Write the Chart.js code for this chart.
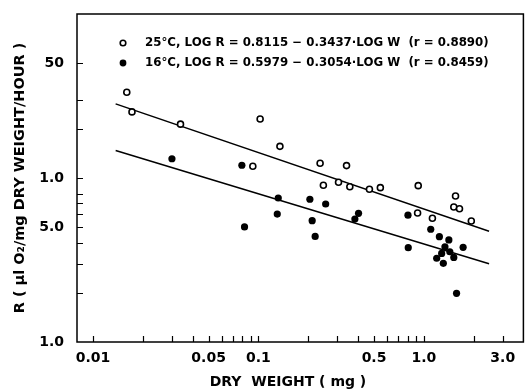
<!DOCTYPE html>
<html>
<head>
<meta charset="utf-8">
<script src="https://cdn.jsdelivr.net/npm/chart.js@4.4.0/dist/chart.umd.min.js"></script>
<style>
  html, body { margin: 0; padding: 0; background: #fff; }
</style>
</head>
<body>
<canvas id="chart" width="529" height="392"></canvas>
<script>
// 25°C (open circles) - dry weight (mg) and R
const openW = [0.0160, 0.0172, 0.0338, 0.1024, 0.1349, 0.0925, 0.236, 0.341, 0.247, 0.305,
               0.357, 0.469, 0.546, 0.925, 0.917, 1.127, 1.555, 1.518, 1.643, 1.937];
const openR = [33.3, 25.3, 21.3, 22.9, 15.6, 11.8, 12.3, 11.9, 9.03, 9.42,
               8.85, 8.53, 8.73, 8.98, 6.12, 5.68, 7.77, 6.66, 6.50, 5.47];

// 16°C (filled circles)
const filledW = [0.030, 0.0794, 0.1318, 0.130, 0.0824, 0.2047, 0.2113, 0.2203, 0.255, 0.403,
                 0.383, 0.802, 0.805, 1.101, 1.242, 1.417, 1.728, 1.342, 1.282, 1.196,
                 1.312, 1.518, 1.436, 1.577];
const filledR = [13.1, 11.96, 7.55, 6.03, 5.03, 7.42, 5.49, 4.40, 6.94, 6.09,
                 5.62, 5.93, 3.76, 4.87, 4.39, 4.19, 3.78, 3.81, 3.47, 3.24,
                 3.02, 3.28, 3.55, 1.98];

// fitted lines, end points
const lineW = [0.0137, 2.48];
const upperLineR = [28.3, 4.74];
const lowerLineR = [14.7, 3.0];

// axis labels as printed
const xTickValues = [0.01, 0.05, 0.1, 0.5, 1.0, 3.0];
const xTickLabels = ['0.01', '0.05', '0.1', '0.5', '1.0', '3.0'];
const yTickValues = [1, 5, 10, 50];
const yTickLabels = ['1.0', '5.0', '1.0', '50'];

// small tick marks along the axes
const xTickMarks = [0.01, 0.02, 0.03, 0.04, 0.05, 0.06, 0.07, 0.08, 0.09,
                    0.1, 0.2, 0.3, 0.4, 0.5, 0.6, 0.7, 0.8, 0.9, 1, 2, 3];
const yTickMarks = [2, 3, 4, 5, 6, 7, 8, 10, 20, 30, 50];

const legendLabels = [
  '25°C, LOG R = 0.8115 − 0.3437·LOG W  (r = 0.8890)',
  '16°C, LOG R = 0.5979 − 0.3054·LOG W  (r = 0.8459)'
];

const FONT = "'DejaVu Sans', sans-serif";

const toPoints = (xs, ys) => xs.map((x, i) => ({ x: x, y: ys[i] }));

// frame, inward tick marks, legend and x title
const decorations = {
  id: 'decorations',
  afterDraw(chart) {
    const ctx = chart.ctx;
    const a = chart.chartArea;
    const x = chart.scales.x;
    const y = chart.scales.y;

    ctx.save();
    ctx.strokeStyle = '#000';
    ctx.lineWidth = 1.5;
    ctx.strokeRect(a.left, a.top, a.right - a.left, a.bottom - a.top);

    ctx.lineWidth = 1.2;
    ctx.beginPath();
    xTickMarks.forEach(v => {
      const px = Math.round(x.getPixelForValue(v)) + 0.5;
      ctx.moveTo(px, a.bottom);
      ctx.lineTo(px, a.bottom - 6);
    });
    yTickMarks.forEach(v => {
      const py = Math.round(y.getPixelForValue(v)) + 0.5;
      ctx.moveTo(a.left, py);
      ctx.lineTo(a.left + 6, py);
    });
    ctx.stroke();

    // legend
    ctx.fillStyle = '#000';
    ctx.font = 'bold 11.8px ' + FONT;
    ctx.textBaseline = 'middle';
    ctx.textAlign = 'left';
    const lx = a.left + 46;
    const ly = [a.top + 29, a.top + 49];

    ctx.lineWidth = 1.6;
    ctx.beginPath();
    ctx.arc(lx, ly[0], 2.8, 0, Math.PI * 2);
    ctx.stroke();
    ctx.beginPath();
    ctx.arc(lx, ly[1], 3.4, 0, Math.PI * 2);
    ctx.fill();

    ctx.fillText(legendLabels[0], lx + 22, ly[0]);
    ctx.fillText(legendLabels[1], lx + 22, ly[1]);

    // x axis title
    ctx.font = 'bold 14px ' + FONT;
    ctx.textAlign = 'center';
    ctx.fillText('DRY  WEIGHT ( mg )', a.left + 211, 382);
    ctx.restore();
  }
};

new Chart(document.getElementById('chart'), {
  type: 'scatter',
  data: {
    datasets: [
      {
        label: '25°C',
        data: toPoints(openW, openR),
        pointRadius: 3,
        pointBorderWidth: 1.6,
        pointBorderColor: '#000',
        pointBackgroundColor: '#fff'
      },
      {
        label: '16°C',
        data: toPoints(filledW, filledR),
        pointRadius: 3.6,
        pointBorderWidth: 0,
        pointBackgroundColor: '#000'
      },
      {
        type: 'line',
        data: toPoints(lineW, upperLineR),
        borderColor: '#000',
        borderWidth: 1.5,
        pointRadius: 0,
        fill: false
      },
      {
        type: 'line',
        data: toPoints(lineW, lowerLineR),
        borderColor: '#000',
        borderWidth: 1.5,
        pointRadius: 0,
        fill: false
      }
    ]
  },
  options: {
    responsive: false,
    animation: false,
    devicePixelRatio: 1,
    layout: { padding: { top: 14, right: 1, left: 0, bottom: 0 } },
    plugins: {
      legend: { display: false },
      tooltip: { enabled: false }
    },
    scales: {
      x: {
        type: 'logarithmic',
        min: 0.008,
        max: 4.0,
        afterBuildTicks: s => { s.ticks = xTickValues.map(v => ({ value: v })); },
        afterFit: s => { s.height = 50; },
        grid: { display: false },
        border: { display: false },
        ticks: {
          autoSkip: false,
          maxRotation: 0,
          padding: 0,
          color: '#000',
          font: { family: FONT, size: 14, weight: 'bold' },
          callback: (v, i) => xTickLabels[i]
        }
      },
      y: {
        type: 'logarithmic',
        min: 1,
        max: 100,
        afterBuildTicks: s => { s.ticks = yTickValues.map(v => ({ value: v })); },
        afterFit: s => { s.width = 77; },
        grid: { display: false },
        border: { display: false },
        ticks: {
          autoSkip: false,
          padding: 5,
          color: '#000',
          font: { family: FONT, size: 14, weight: 'bold' },
          callback: (v, i) => yTickLabels[i]
        },
        title: {
          display: true,
          text: 'R ( µl O₂/mg DRY WEIGHT/HOUR )',
          color: '#000',
          font: { family: FONT, size: 14.5, weight: 'bold' },
          padding: { top: 12, bottom: 0 }
        }
      }
    }
  },
  plugins: [decorations]
});
</script>
</body>
</html>
